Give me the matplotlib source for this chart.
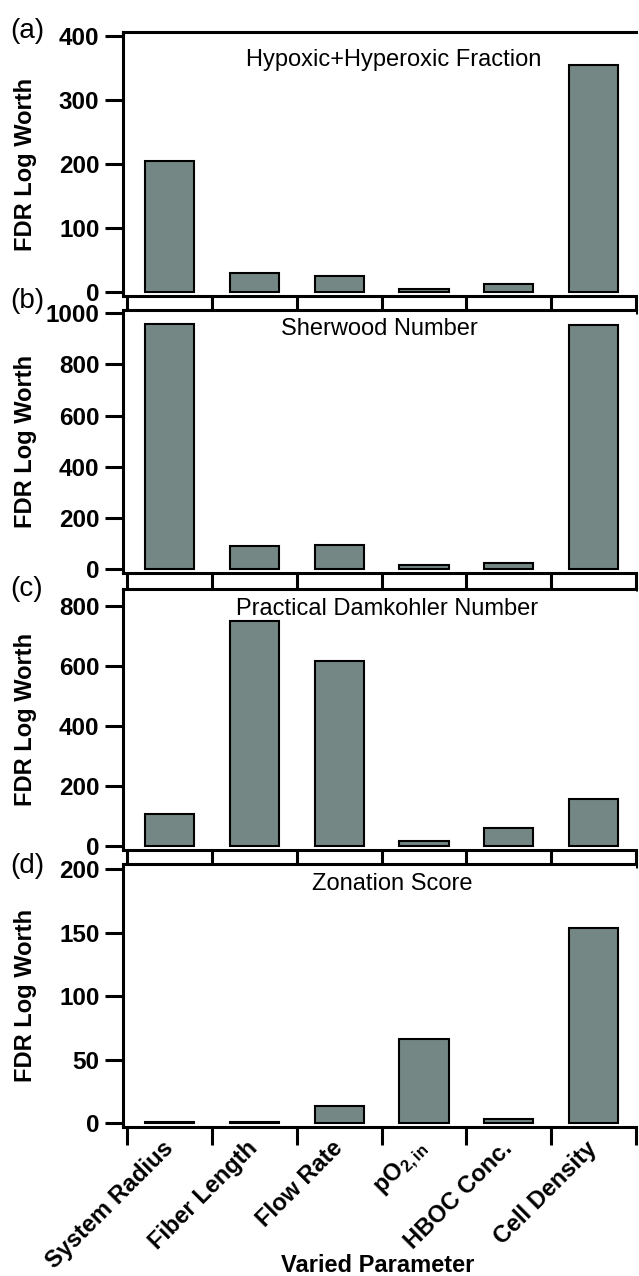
import matplotlib
matplotlib.use("Agg")
import matplotlib.pyplot as plt
import numpy as np

plt.rcParams['font.family'] = ['Liberation Sans', 'DejaVu Sans']
plt.rcParams['mathtext.fontset'] = 'custom'
plt.rcParams['mathtext.rm'] = 'Liberation Sans'
plt.rcParams['mathtext.bf'] = 'Liberation Sans:bold'
plt.rcParams['mathtext.it'] = 'Liberation Sans:italic'

categories = ["System Radius", "Fiber Length", "Flow Rate",
              r"$\mathbf{pO}_{\mathbf{2,in}}$", "HBOC Conc.", "Cell Density"]

hyp_fraction = [205, 30, 25, 5, 12.5, 354]
sherwood = [960, 90, 92, 17, 22, 955]
damkohler = [108, 751, 615, 17, 60, 157]
zonation = [1.2, 1.2, 13.4, 66, 3, 154]

panel_values = [hyp_fraction, sherwood, damkohler, zonation]
panel_titles = ["Hypoxic+Hyperoxic Fraction", "Sherwood Number",
                "Practical Damkohler Number", "Zonation Score"]
panel_letters = ["(a)", "(b)", "(c)", "(d)"]
panel_yticks = [[0, 100, 200, 300, 400],
                [0, 200, 400, 600, 800, 1000],
                [0, 200, 400, 600, 800],
                [0, 50, 100, 150, 200]]
panel_ylims = [(-6.25, 406.25), (-15.6, 1013), (-13, 856), (-3, 204)]

W, H = 639, 1276
fig = plt.figure(figsize=(W / 100, H / 100), dpi=100)

# panel geometry in pixels: (top, bottom)
panel_px = [(32, 296), (310, 573), (589, 850), (864, 1127)]
left_px, right_px = 123, 636
title_px = [(394, 66), (379, 335), (387, 615), (392, 890)]
letter_px = [(27, 31), (27, 301), (27, 589), (27, 866)]

bar_color = '#758784'
x = np.arange(1, len(categories) + 1)
boundaries = np.arange(0.5, len(categories) + 1, 1.0)

for i in range(4):
    top, bot = panel_px[i]
    ax = fig.add_axes([left_px / W, 1 - bot / H, (right_px - left_px) / W, (bot - top) / H])
    ax.bar(x, panel_values[i], width=0.58, color=bar_color, edgecolor='black',
           linewidth=1.5, zorder=3)
    ax.set_xlim(0.45, 6.5)
    ax.set_ylim(*panel_ylims[i])
    ax.set_yticks(panel_yticks[i])
    ax.set_yticklabels([str(v) for v in panel_yticks[i]], fontsize=17.5, fontweight='bold')
    ax.set_xticks(boundaries)
    ax.set_xticklabels([])
    ax.tick_params(axis='y', length=13, width=2.2, pad=4, direction='out')
    ax.tick_params(axis='x', which='major', length=13, width=2.2, direction='out')
    for s in ['left', 'bottom', 'top']:
        ax.spines[s].set_linewidth(2.2)
        ax.spines[s].set_color('black')
    ax.spines['right'].set_visible(False)
    ax.set_ylabel("FDR Log Worth", fontsize=17, fontweight='bold')
    ax.yaxis.set_label_coords(-(left_px - 37) / (right_px - left_px), 0.5)
    if i == 3:
        ax.set_xticks(x, minor=True)
        ax.set_xticklabels(categories, minor=True, rotation=45, ha='right',
                           va='center', rotation_mode='anchor',
                           fontsize=17, fontweight='bold')
        ax.tick_params(axis='x', which='minor', length=0, pad=13)
    tx, ty = title_px[i]
    fig.text(tx / W, 1 - ty / H, panel_titles[i], fontsize=17, ha='center',
             va='baseline')
    lx, ly = letter_px[i]
    fig.text(lx / W, 1 - ly / H, panel_letters[i], fontsize=20, ha='center',
             va='center')

fig.text(378 / W, 1 - 1272 / H, "Varied Parameter", fontsize=17,
         fontweight='bold', ha='center', va='baseline')

fig.savefig("out.png", dpi=100)
